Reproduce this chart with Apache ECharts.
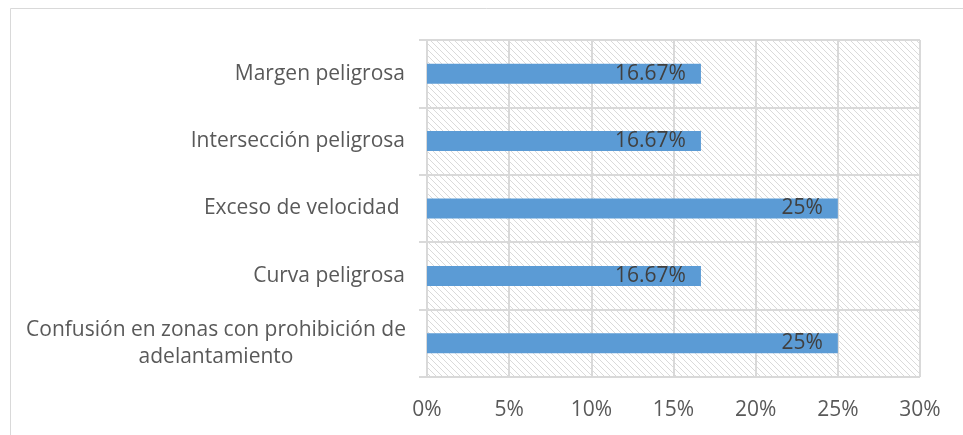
<!DOCTYPE html>
<html><head><meta charset="utf-8">
<script src="https://cdn.jsdelivr.net/npm/echarts@6/dist/echarts.min.js"></script>
<style>html,body{margin:0;padding:0;background:#fff}#c{width:963px;height:435px}</style>
</head><body><div id="c"></div>
<script>
const categories = ['Confusión en zonas con prohibición de\nadelantamiento', 'Curva peligrosa', 'Exceso de velocidad ', 'Intersección peligrosa', 'Margen peligrosa'];
const values = [25, 16.67, 25, 16.67, 16.67];
const xTicks = [0, 5, 10, 15, 20, 25, 30];

const pc = document.createElement('canvas');
pc.width = 6; pc.height = 6;
const g = pc.getContext('2d');
g.fillStyle = '#fff'; g.fillRect(0, 0, 6, 6);
g.strokeStyle = '#dadada'; g.lineWidth = 1;
g.beginPath(); g.moveTo(-1, -1); g.lineTo(7, 7); g.stroke();
g.beginPath(); g.moveTo(5, -1); g.lineTo(7, 1); g.stroke();
g.beginPath(); g.moveTo(-1, 5); g.lineTo(1, 7); g.stroke();

const FONT = '"Open Sans", sans-serif';
const FS = 21;
const chart = echarts.init(document.getElementById('c'));
chart.setOption({
  animation: false,
  graphic: [{type: 'polyline', shape: {points: [[10.5, 435], [10.5, 8.5], [963, 8.5]]}, style: {stroke: '#d9d9d9', lineWidth: 1, fill: null}}],
  grid: {left: 427, right: 43, top: 40, bottom: 58, show: true, backgroundColor: {image: pc, repeat: 'repeat'}, borderWidth: 0},
  xAxis: {
    type: 'value', min: 0, max: 30, interval: 5,
    axisLine: {show: false}, axisTick: {show: false},
    splitLine: {show: true, lineStyle: {color: '#d9d9d9', width: 2}},
    axisLabel: {margin: 23, color: '#595959', fontSize: FS, fontFamily: FONT,
      formatter: v => xTicks.includes(v) ? v + '%' : ''}
  },
  yAxis: {
    type: 'category', data: categories,
    axisLine: {show: true, lineStyle: {color: '#d9d9d9', width: 2}},
    axisTick: {show: true, length: 8, lineStyle: {color: '#d9d9d9', width: 2}},
    splitLine: {show: true, lineStyle: {color: '#d9d9d9', width: 2}},
    axisLabel: {margin: 22, color: '#595959', fontSize: FS, fontFamily: FONT, lineHeight: 27,
      formatter: v => v.indexOf('\n') >= 0 ? v.split('\n').map(s => '{c|' + s + '}').join('\n') : v,
      rich: {c: {width: 378, align: 'center', fontSize: FS, fontFamily: FONT, color: '#595959', lineHeight: 27}}}
  },
  series: [{
    type: 'bar', data: values, barWidth: 20,
    itemStyle: {color: '#5b9bd5'},
    label: {show: true, position: 'insideRight', distance: 15, color: '#404040', fontSize: FS, fontFamily: FONT,
      formatter: p => p.value + '%'}
  }]
});
</script></body></html>
